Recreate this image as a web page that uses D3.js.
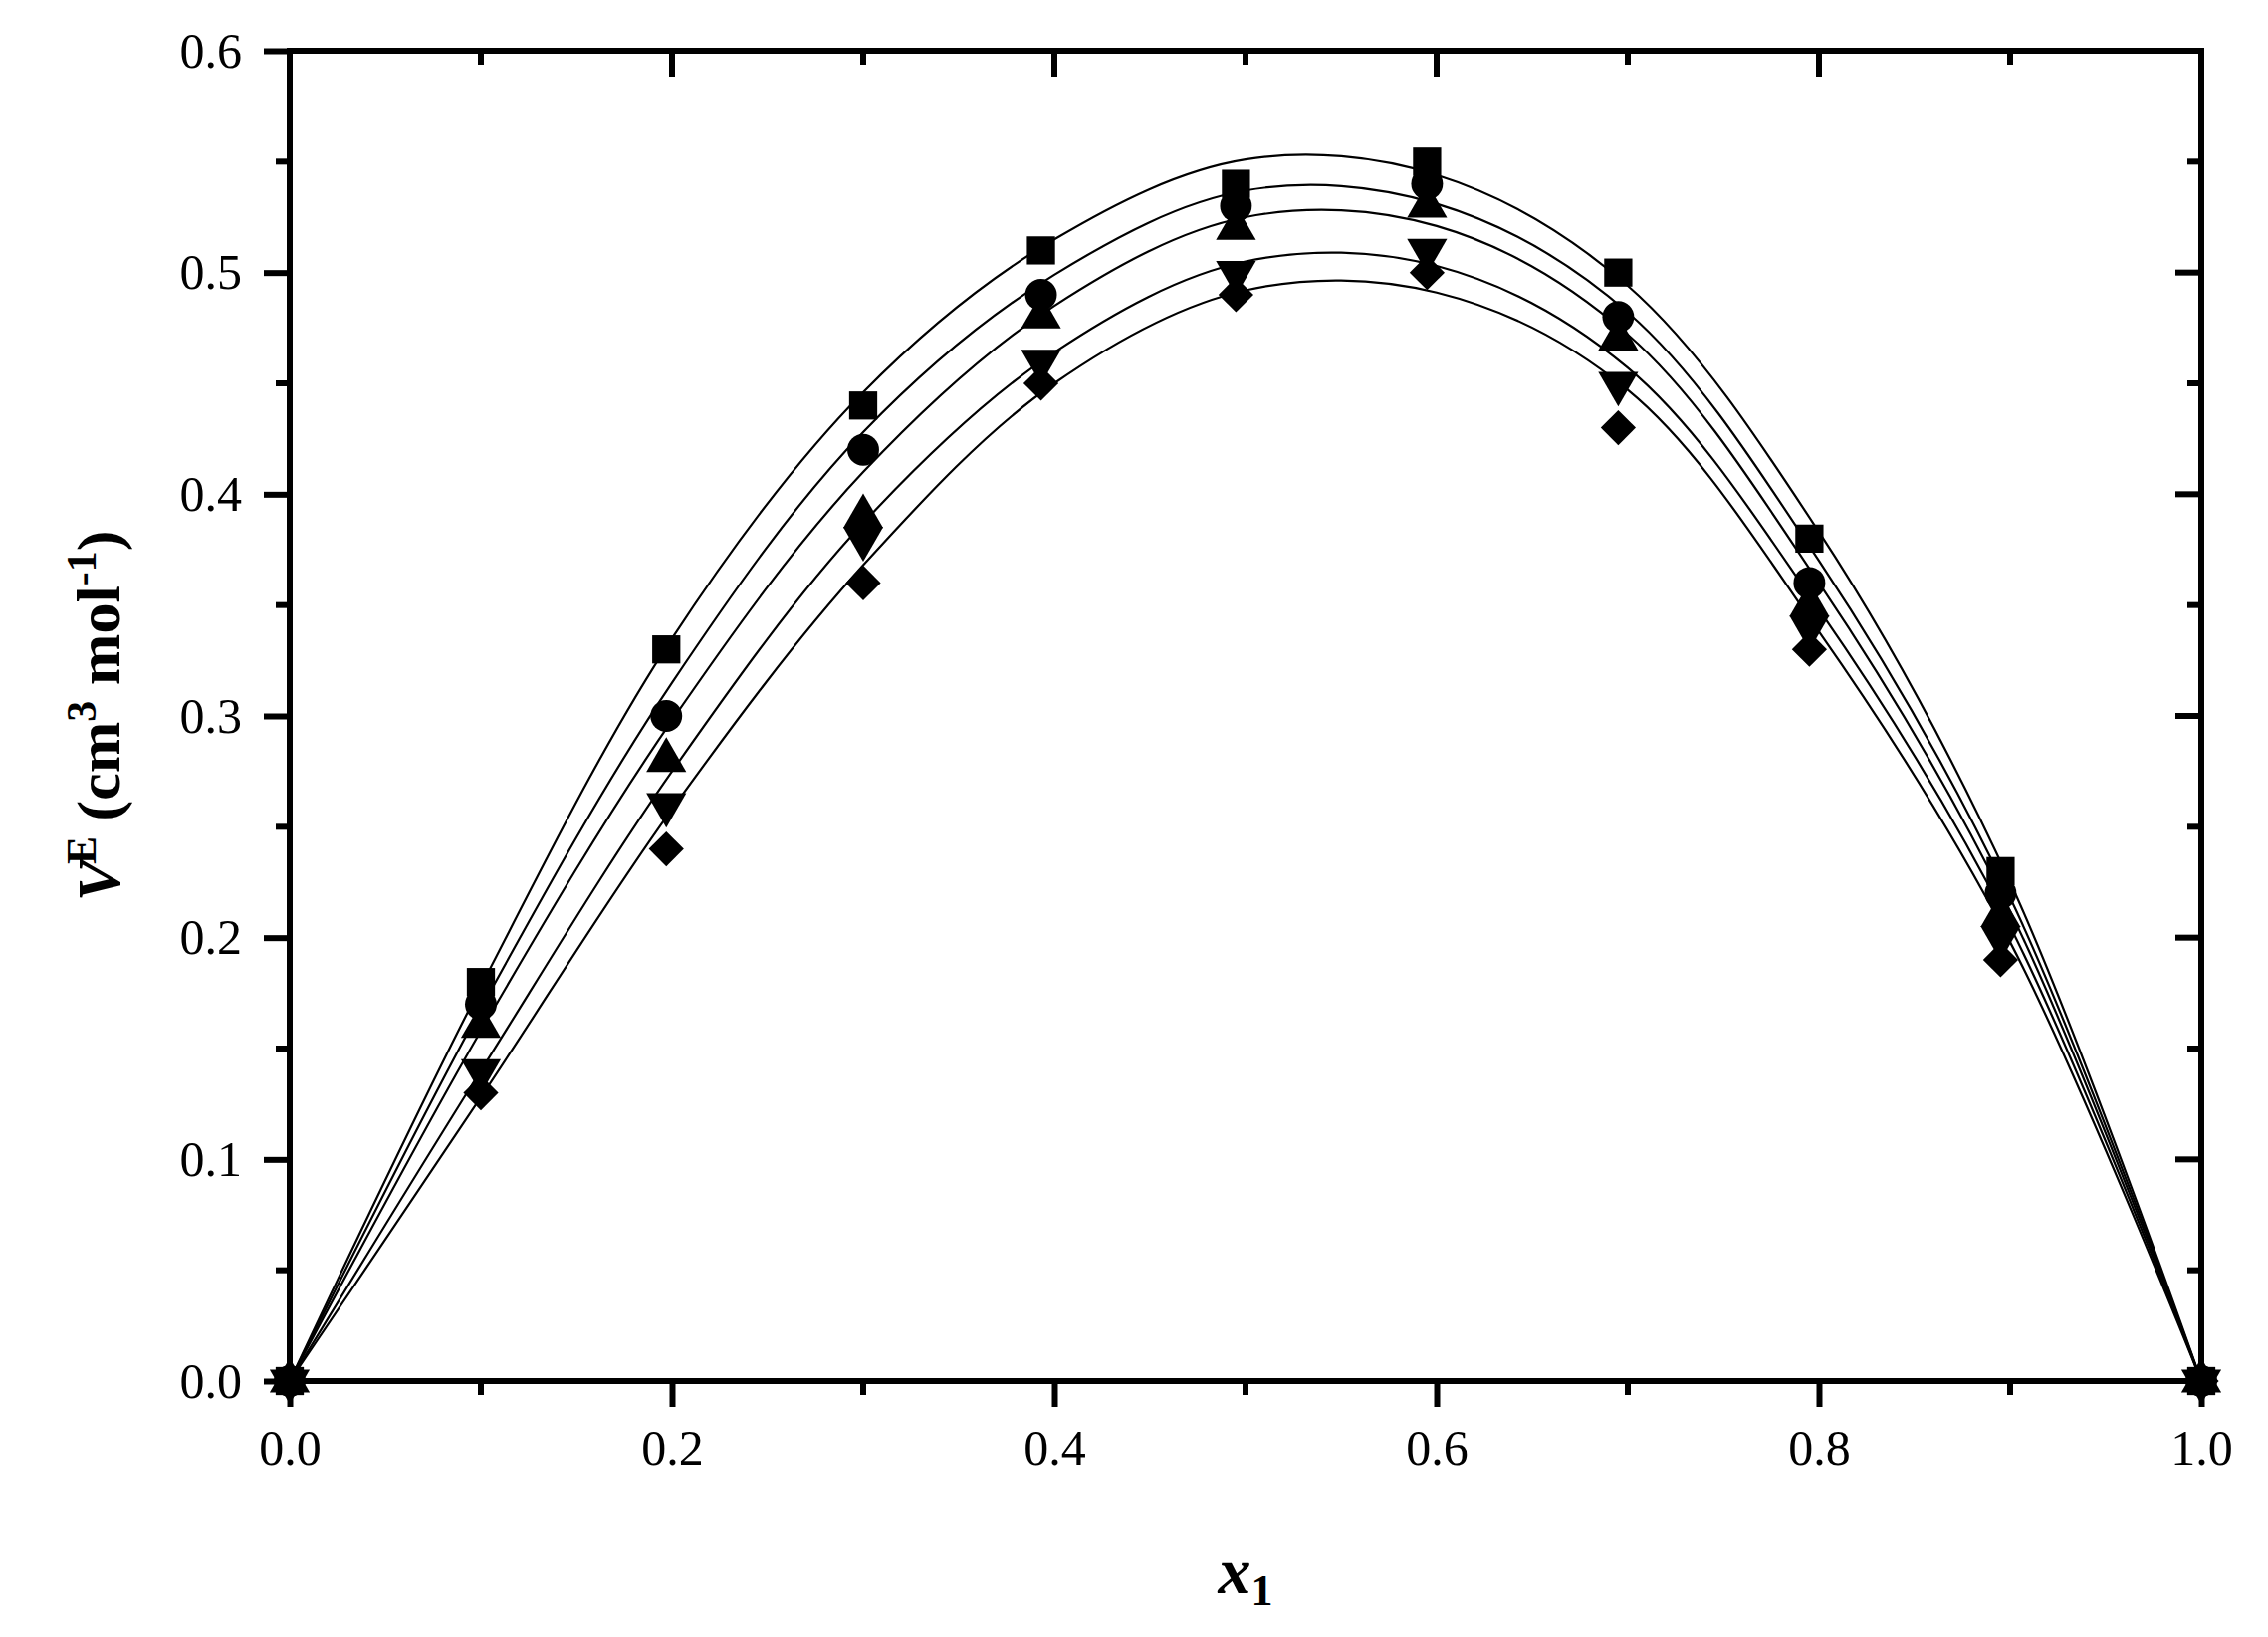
<!DOCTYPE html><html><head><script src="https://cdn.jsdelivr.net/npm/d3@7"></script>
<style>body{margin:0;background:#fff}text{font-family:"Times New Roman","Liberation Serif",Tinos,serif}</style></head><body>
<svg id="c" width="2278" height="1644"></svg>
<script>
const xTicks=[0,0.2,0.4,0.6,0.8,1.0];
const yTicks=[0,0.1,0.2,0.3,0.4,0.5,0.6];
const xPts=[0,0.1,0.197,0.3,0.393,0.495,0.595,0.695,0.795,0.895,1];
const sSquare=[0,0.18,0.33,0.44,0.51,0.54,0.55,0.50,0.38,0.23,0];
const sCircle=[0,0.17,0.30,0.42,0.49,0.53,0.54,0.48,0.36,0.22,0];
const sTriUp=[0,0.16,0.28,0.39,0.48,0.52,0.53,0.47,0.35,0.21,0];
const sTriDown=[0,0.14,0.26,0.38,0.46,0.50,0.51,0.45,0.34,0.20,0];
const sDiamond=[0,0.13,0.24,0.36,0.45,0.49,0.50,0.43,0.33,0.19,0];
const xCurve=[0,0.1,0.2,0.3,0.4,0.5,0.6,0.7,0.8,0.9,1];
const c1=[0,0.178,0.335,0.446,0.515,0.551,0.544,0.494,0.383,0.225,0];
const c2=[0,0.168,0.315,0.428,0.499,0.537,0.531,0.482,0.370,0.218,0];
const c3=[0,0.158,0.298,0.410,0.485,0.525,0.521,0.472,0.360,0.212,0];
const c4=[0,0.140,0.275,0.387,0.464,0.505,0.503,0.457,0.348,0.205,0];
const c5=[0,0.128,0.258,0.368,0.450,0.492,0.491,0.447,0.338,0.198,0];

const L=291,R=2211,T=51,B=1387;
const FF='"Times New Roman","Liberation Serif",Tinos,serif';
const svg=d3.select("#c");
const x=d3.scaleLinear().domain([0,1]).range([L,R]);
const y=d3.scaleLinear().domain([0,0.6]).range([B,T]);
const line=d3.line().x(d=>x(d[0])).y(d=>y(d[1])).curve(d3.curveCatmullRom.alpha(0.5));
[c1,c2,c3,c4,c5].forEach(c=>svg.append("path").attr("d",line(xCurve.map((v,i)=>[v,c[i]]))).attr("fill","none").attr("stroke","#000").attr("stroke-width",2.2));
const S=[[sSquare,d3.symbolSquare,800,""],[sCircle,d3.symbolCircle,800,""],[sTriUp,d3.symbolTriangle,700,""],[sTriDown,d3.symbolTriangle,700," rotate(180)"],[sDiamond,d3.symbolSquare,620," rotate(45)"]];
S.forEach(([s,sym,size,rot])=>{
  svg.append("g").selectAll("path").data(xPts.map((v,i)=>[v,s[i]])).join("path")
   .attr("d",d3.symbol(sym,size)).attr("fill","#000")
   .attr("transform",d=>`translate(${x(d[0])},${y(d[1])})${rot}`);
});
const ax=svg.append("g");
const bottom=d3.axisBottom(x).tickValues(xTicks).tickFormat(d3.format(".1f")).tickSize(26).tickPadding(22);
const gb=ax.append("g").attr("transform",`translate(0,${B})`).call(bottom);
const left=d3.axisLeft(y).tickValues(yTicks).tickFormat(d3.format(".1f")).tickSize(26).tickPadding(22);
const gl=ax.append("g").attr("transform",`translate(${L},0)`).call(left);
[gb,gl].forEach(g=>{g.attr("font-family",FF);g.selectAll("text").attr("font-size",50).style("font-family",FF);g.selectAll("line").attr("stroke-width",6);g.select(".domain").remove();});
const xMin=[0.1,0.3,0.5,0.7,0.9], yMin=[0.05,0.15,0.25,0.35,0.45,0.55];
xMin.forEach(v=>{svg.append("line").attr("x1",x(v)).attr("x2",x(v)).attr("y1",B).attr("y2",B+14).attr("stroke","#000").attr("stroke-width",6);
 svg.append("line").attr("x1",x(v)).attr("x2",x(v)).attr("y1",T).attr("y2",T+14).attr("stroke","#000").attr("stroke-width",6);});
xTicks.forEach(v=>svg.append("line").attr("x1",x(v)).attr("x2",x(v)).attr("y1",T).attr("y2",T+26).attr("stroke","#000").attr("stroke-width",6));
yMin.forEach(v=>{svg.append("line").attr("x1",L-14).attr("x2",L).attr("y1",y(v)).attr("y2",y(v)).attr("stroke","#000").attr("stroke-width",6);
 svg.append("line").attr("x1",R-14).attr("x2",R).attr("y1",y(v)).attr("y2",y(v)).attr("stroke","#000").attr("stroke-width",6);});
yTicks.forEach(v=>svg.append("line").attr("x1",R-26).attr("x2",R).attr("y1",y(v)).attr("y2",y(v)).attr("stroke","#000").attr("stroke-width",6));
svg.append("rect").attr("x",L).attr("y",T).attr("width",R-L).attr("height",B-T).attr("fill","none").attr("stroke","#000").attr("stroke-width",6);
const xl=svg.append("text").attr("x",(L+R)/2).attr("y",1600).attr("text-anchor","middle").attr("font-size",66).attr("font-weight","bold").style("font-family",FF);
xl.append("tspan").attr("font-style","italic").text("x");
xl.append("tspan").attr("font-size",44).attr("dy",12).text("1");
const yl=svg.append("text").attr("transform",`translate(120,${(T+B)/2}) rotate(-90)`).attr("text-anchor","middle").attr("font-size",62).attr("font-weight","bold").style("font-family",FF);
yl.append("tspan").attr("font-style","italic").text("V");
yl.append("tspan").attr("font-size",42).attr("dy",-24).attr("dx",-4).text("E");
yl.append("tspan").attr("dy",24).text(" (cm");
yl.append("tspan").attr("font-size",42).attr("dy",-24).text("3");
yl.append("tspan").attr("dy",24).text(" mol");
yl.append("tspan").attr("font-size",42).attr("dy",-24).text("-1");
yl.append("tspan").attr("dy",24).text(")");
</script></body></html>
